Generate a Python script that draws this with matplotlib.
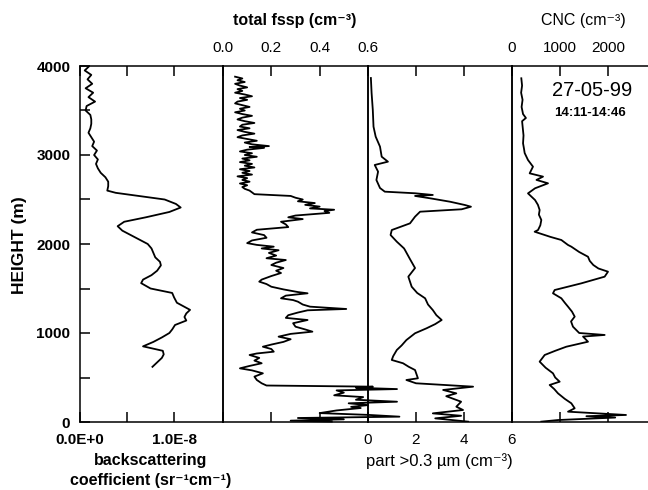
import numpy as np
import matplotlib
matplotlib.use('Agg')
import matplotlib.pyplot as plt
from matplotlib.ticker import MultipleLocator

plt.rcParams['font.family'] = ['Liberation Sans', 'DejaVu Sans']

# backscattering coefficient (units of 1E-8 sr-1 cm-1) vs height (m)
bsc_height = [3990, 3950, 3900, 3850, 3800, 3750, 3700, 3650, 3600, 3550, 3500, 3450,
              3400, 3350, 3300, 3250, 3200, 3150, 3100, 3050, 3000, 2950, 2900, 2850,
              2800, 2750, 2700, 2650, 2600, 2575, 2500, 2450, 2410, 2360, 2300, 2250,
              2200, 2150, 2100, 2050, 2000, 1950, 1900, 1850, 1800, 1760, 1700, 1650,
              1600, 1560, 1500, 1450, 1400, 1340, 1300, 1260, 1220, 1180, 1140, 1090,
              1040, 1000, 950, 900, 850, 800, 760, 720, 680, 620]
bsc_value = [0.09, 0.05, 0.12, 0.08, 0.13, 0.06, 0.14, 0.09, 0.16, 0.07, 0.06, 0.11,
             0.12, 0.12, 0.11, 0.09, 0.12, 0.15, 0.13, 0.18, 0.15, 0.19, 0.17, 0.19,
             0.22, 0.27, 0.30, 0.30, 0.29, 0.38, 0.90, 1.02, 1.07, 0.95, 0.70, 0.47,
             0.40, 0.45, 0.54, 0.63, 0.72, 0.76, 0.78, 0.80, 0.85, 0.86, 0.82, 0.76,
             0.67, 0.65, 0.75, 0.98, 1.00, 1.03, 1.10, 1.17, 1.13, 1.11, 1.13, 1.01,
             0.98, 0.95, 0.87, 0.78, 0.67, 0.88, 0.89, 0.87, 0.83, 0.77]

# total fssp (cm-3)
fssp_height = [3880, 3860, 3840, 3820, 3800, 3780, 3760, 3740, 3720, 3700, 3680, 3660,
               3640, 3620, 3600, 3580, 3560, 3540, 3520, 3500, 3480, 3460, 3440, 3420,
               3400, 3380, 3360, 3340, 3320, 3300, 3280, 3260, 3240, 3220, 3200, 3180,
               3160, 3140, 3120, 3100, 3090, 3080, 3060, 3040, 3020, 3000, 2980, 2960,
               2940, 2920, 2900, 2880, 2860, 2840, 2820, 2800, 2780, 2760, 2740, 2720,
               2700, 2680, 2660, 2640, 2620, 2600, 2580, 2560, 2540, 2520, 2500, 2480,
               2460, 2440, 2420, 2400, 2385, 2370, 2350, 2320, 2300, 2280, 2250, 2220,
               2190, 2160, 2130, 2100, 2070, 2040, 2010, 1990, 1970, 1950, 1930, 1900,
               1870, 1840, 1820, 1790, 1764, 1730, 1700, 1674, 1640, 1600, 1577, 1550,
               1520, 1490, 1460, 1446, 1420, 1390, 1370, 1352, 1320, 1296, 1270, 1255,
               1230, 1200, 1170, 1146, 1110, 1071, 1040, 1015, 990, 959, 930, 900,
               870, 846, 820, 790, 770, 753, 720, 690, 660, 630, 603, 580,
               547, 510, 472, 435, 410, 397, 385, 370, 355, 330, 300, 280,
               250, 228, 210, 190, 170, 157, 130, 100, 80, 60, 45, 30, 15, 5]
fssp_value = [0.05, 0.08, 0.06, 0.09, 0.05, 0.07, 0.10, 0.06, 0.08, 0.05, 0.09, 0.12,
              0.07, 0.10, 0.06, 0.05, 0.08, 0.11, 0.07, 0.09, 0.05, 0.08, 0.12, 0.08,
              0.06, 0.09, 0.13, 0.08, 0.07, 0.11, 0.06, 0.09, 0.13, 0.08, 0.06, 0.10,
              0.14, 0.09, 0.12, 0.19, 0.11, 0.17, 0.10, 0.07, 0.12, 0.09, 0.14, 0.08,
              0.11, 0.07, 0.12, 0.09, 0.13, 0.07, 0.11, 0.08, 0.12, 0.06, 0.10, 0.08,
              0.11, 0.07, 0.10, 0.08, 0.09, 0.11, 0.12, 0.13, 0.28, 0.30, 0.33, 0.31,
              0.38, 0.34, 0.40, 0.36, 0.46, 0.42, 0.44, 0.30, 0.27, 0.33, 0.24, 0.26,
              0.27, 0.14, 0.12, 0.17, 0.18, 0.12, 0.10, 0.14, 0.21, 0.16, 0.23, 0.19,
              0.22, 0.18, 0.26, 0.22, 0.20, 0.25, 0.22, 0.24, 0.20, 0.16, 0.15, 0.18,
              0.20, 0.25, 0.31, 0.35, 0.26, 0.24, 0.29, 0.31, 0.33, 0.36, 0.51, 0.35,
              0.31, 0.27, 0.26, 0.35, 0.29, 0.30, 0.34, 0.37, 0.28, 0.23, 0.28, 0.25,
              0.20, 0.165, 0.20, 0.21, 0.14, 0.11, 0.15, 0.13, 0.16, 0.11, 0.07, 0.12,
              0.165, 0.13, 0.14, 0.16, 0.18, 0.62, 0.55, 0.72, 0.47, 0.50, 0.46, 0.58,
              0.55, 0.72, 0.52, 0.60, 0.53, 0.57, 0.47, 0.40, 0.60, 0.73, 0.31, 0.50, 0.28, 0.45]

# particles > 0.3 um (cm-3)
part_height = [3865, 3696, 3506, 3318, 3206, 3094, 2981, 2925, 2888, 2813, 2719, 2629,
               2588, 2570, 2551, 2540, 2513, 2475, 2438, 2419, 2390, 2363, 2307, 2232,
               2157, 2101, 2026, 1951, 1933, 1830, 1730, 1633, 1520, 1450, 1390, 1320,
               1258, 1200, 1146, 1100, 1053, 997, 921, 860, 809, 740, 697, 660,
               620, 584, 491, 472, 435, 397, 360, 322, 290, 228, 172, 135,
               97, 70, 41, 4]
part_value = [0.12, 0.15, 0.20, 0.23, 0.32, 0.50, 0.57, 0.83, 0.28, 0.42, 0.35, 0.50,
              0.70, 1.96, 2.70, 1.96, 2.60, 3.42, 4.04, 4.29, 3.90, 2.17, 1.96, 1.75,
              0.99, 0.94, 1.20, 1.50, 1.54, 1.75, 1.96, 1.68, 1.82, 2.05, 2.38, 2.50,
              2.70, 2.85, 3.07, 2.80, 2.44, 1.96, 1.60, 1.40, 1.20, 1.05, 0.99, 1.46,
              1.70, 1.96, 2.08, 1.60, 2.00, 4.38, 3.13, 3.68, 3.26, 3.88, 3.68, 3.96,
              2.70, 3.88, 2.80, 4.17]

# CNC (cm-3)
cnc_height = [3862, 3780, 3700, 3620, 3540, 3460, 3416, 3380, 3300, 3220, 3131, 3070,
              3022, 2944, 2869, 2794, 2757, 2720, 2682, 2626, 2569, 2494, 2440, 2382,
              2330, 2270, 2210, 2157, 2138, 2080, 2045, 1989, 1970, 1910, 1857, 1810,
              1764, 1725, 1689, 1633, 1558, 1483, 1446, 1390, 1340, 1296, 1240, 1184,
              1130, 1071, 1000, 978, 960, 902, 846, 800, 753, 678, 610, 547,
              500, 453, 416, 370, 322, 260, 210, 154, 116, 79, 65, 50, 22, 4]
cnc_value = [194, 210, 190, 220, 200, 230, 290, 210, 225, 240, 230, 250,
             264, 333, 437, 368, 646, 510, 750, 480, 333, 480, 540, 576,
             560, 611, 590, 542, 472, 800, 1028, 1167, 1236, 1400, 1583, 1620,
             1694, 1800, 2000, 1930, 1444, 889, 854, 1028, 1100, 1167, 1250, 1306,
             1230, 1270, 1400, 1930, 1480, 1583, 1132, 900, 681, 576, 700, 854,
             900, 993, 785, 880, 958, 1100, 1236, 1306, 1167, 2375, 1550, 2150, 958, 611]

W, H = 648, 490
fig = plt.figure(figsize=(W / 100, H / 100), dpi=100)

top, bottom = 66, 422
edges = [80, 223, 368, 512, 656]
axes = []
for i in range(4):
    ax = fig.add_axes([edges[i] / W, 1 - bottom / H,
                       (edges[i + 1] - edges[i]) / W, (bottom - top) / H])
    ax.patch.set_visible(False)
    ax.set_ylim(0, 4000)
    for sp in ax.spines.values():
        sp.set_linewidth(1.1)
    ax.tick_params(axis='both', which='both', direction='in', length=7, width=1.1,
                   top=True, bottom=True, left=False, right=False,
                   labelleft=False, labelsize=11)
    axes.append(ax)

ax1, ax2, ax3, ax4 = axes
lw = 1.3

# panel 1: backscatter
ax1.plot(np.array(bsc_value) * 1e-8, bsc_height, color='black', lw=lw)
ax1.set_xlim(0, 1.52e-8)
ax1.set_xticks([0, 0.5e-8, 1.0e-8])
ax1.set_xticklabels(['0.0E+0', '', '1.0E-8'], fontweight='bold')
ax1.tick_params(axis='x', pad=8)
ax1.yaxis.set_major_locator(MultipleLocator(1000))
ax1.yaxis.set_minor_locator(MultipleLocator(500))
ax1.tick_params(axis='y', which='both', left=True, labelleft=True, pad=7)
ax1.tick_params(axis='y', which='minor', length=7)
for lab in ax1.get_yticklabels():
    lab.set_fontweight('bold')

# panel 2: total fssp
ax2.plot(fssp_value, fssp_height, color='black', lw=lw, clip_on=False)
ax2.set_xlim(0, 0.6)
ax2.set_xticks([0, 0.2, 0.4, 0.6])
ax2.set_xticklabels(['0.0', '0.2', '0.4', '0.6'])
ax2.tick_params(axis='x', labeltop=True, labelbottom=False, pad=8)

# panel 3: part > 0.3 um
ax3.plot(part_value, part_height, color='black', lw=lw)
ax3.set_xlim(0, 6)
ax3.set_xticks([0, 2, 4, 6])
ax3.set_xticklabels(['0', '2', '4', '6'])
ax3.tick_params(axis='x', pad=8)

# panel 4: CNC
ax4.plot(cnc_value, cnc_height, color='black', lw=lw)
ax4.set_xlim(0, 3000)
ax4.set_xticks([0, 1000, 2000])
ax4.set_xticklabels(['0', '1000', '2000'])
ax4.tick_params(axis='x', labeltop=True, labelbottom=False, pad=8)
ax4.set_yticks([1000, 2000, 3000])
ax4.tick_params(axis='y', right=True, length=5)


def ftext(x, y, s, **kw):
    fig.text(x / W, 1 - y / H, s, ha='center', va='center', **kw)


ftext(20, 245, 'HEIGHT (m)', rotation=90, fontsize=12.5, fontweight='bold')
ftext(295, 20, 'total fssp (cm⁻³)', fontsize=11.5, fontweight='bold')
ftext(583, 21, 'CNC (cm⁻³)', fontsize=11.5)
ftext(151, 460, 'backscattering', fontsize=11.5, fontweight='bold')
ftext(151, 480, 'coefficient (sr⁻¹cm⁻¹)', fontsize=11.5, fontweight='bold')
ftext(439, 461, 'part >0.3 µm (cm⁻³)', fontsize=12)
ftext(592, 91, '27-05-99', fontsize=14.5)
ftext(590, 113, '14:11-14:46', fontsize=9.5, fontweight='bold')

fig.savefig('out.png', dpi=100)
